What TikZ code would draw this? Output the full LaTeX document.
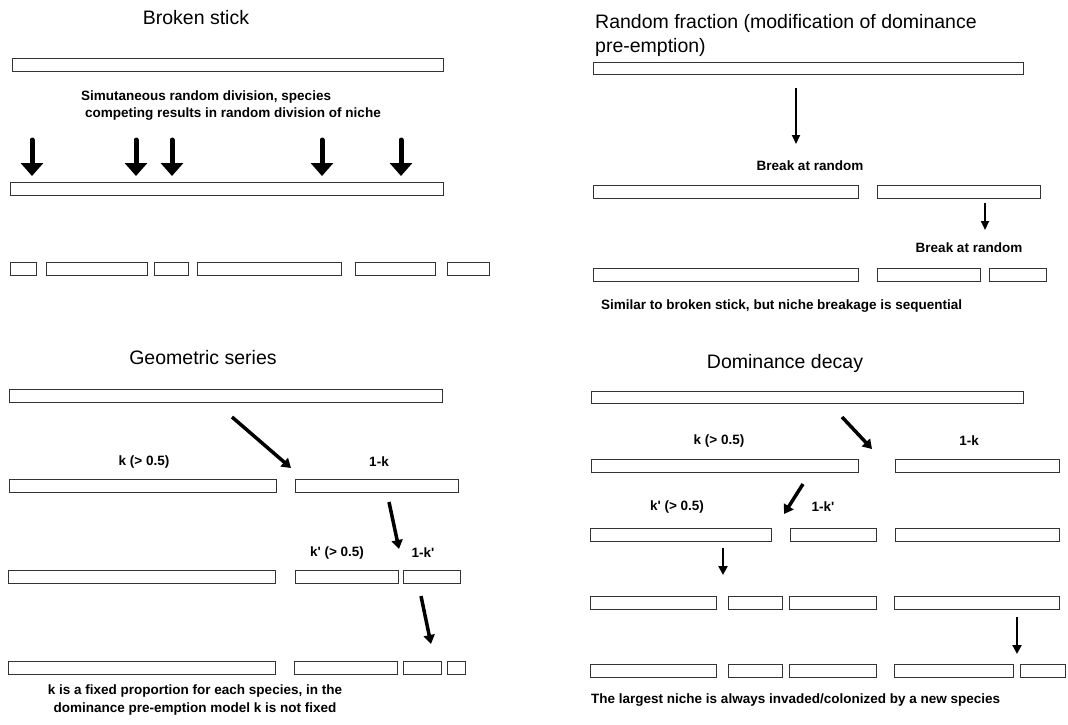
\documentclass[tikz,border=0pt]{standalone}
\usepackage{fontspec}
\setmainfont{Liberation Sans}
\usetikzlibrary{arrows.meta}
\tikzset{
  nichebar/.style={draw=black!80, line width=1pt, fill=white, inner sep=0pt, outer sep=0pt},
  ttl/.style={font=\fontsize{19.5}{24}\selectfont, inner sep=0pt},
  lbl/.style={font=\fontsize{13.5}{17}\selectfont\bfseries, inner sep=0pt},
  bigarrow/.style={line width=5pt, line cap=round, -{Triangle[width=22pt,length=13pt]}},
  thickarrow/.style={line width=3.5pt, -{Triangle[width=11pt,length=9pt]}},
  medarrow/.style={line width=2.5pt, -{Triangle[width=9pt,length=9pt]}},
  thinarrow/.style={line width=1.8pt, -{Triangle[width=8pt,length=9pt]}},
}
\newcommand{\nichebox}[5]{\node[nichebar, minimum width={(#4)-(#2)}, minimum height={(#5)-(#3)}] (#1) at ({((#2)+(#4))/2},{((#3)+(#5))/2}) {};}
\begin{document}
\begin{tikzpicture}[x=1pt, y=-1pt]
\fill[white] (0,0) rectangle (1068,724);
\path[use as bounding box] (0,0) rectangle (1068,724);

% ---------------- Broken stick ----------------
\node[ttl] (t1) at (196,18) {Broken stick};
\nichebox{a1}{12}{58}{443}{71}
\node[lbl, anchor=west, align=left] (d1) at (81,106) {Simutaneous random division, species\\\hspace{4pt}competing results in random division of niche};
\foreach \i/\x in {1/32, 2/136, 3/172, 4/322, 5/401}{
  \coordinate (as\i) at (\x,140);
  \coordinate (ae\i) at (\x,176);
  \draw[bigarrow] (as\i) -- (ae\i);
}
\nichebox{a2}{10}{182}{443}{195}
\nichebox{s1}{10}{262}{36}{275}
\nichebox{s2}{46}{262}{147}{275}
\nichebox{s3}{154}{262}{188}{275}
\nichebox{s4}{197}{262}{341}{275}
\nichebox{s5}{355}{262}{435}{275}
\nichebox{s6}{447}{262}{489}{275}

% ---------------- Random fraction ----------------
\node[ttl, anchor=west, align=left] (t2) at (595,35) {Random fraction (modification of dominance\\pre-emption)};
\nichebox{b1}{593}{62}{1023}{74}
\coordinate (bs1) at (796,88);
\coordinate (be1) at (796,144);
\draw[thinarrow] (bs1) -- (be1);
\node[lbl] (br1) at (810,166) {Break at random};
\nichebox{b2a}{593}{185}{858}{198}
\nichebox{b2b}{877}{185}{1040}{198}
\coordinate (bs2) at (985,203);
\coordinate (be2) at (985,230);
\draw[thinarrow] (bs2) -- (be2);
\node[lbl] (br2) at (969,248) {Break at random};
\nichebox{b3a}{593}{268}{858}{281}
\nichebox{b3b}{877}{268}{980}{281}
\nichebox{b3c}{989}{268}{1046}{281}
\node[lbl, anchor=west] (d2) at (601,306) {Similar to broken stick, but niche breakage is sequential};

% ---------------- Geometric series ----------------
\node[ttl] (t3) at (203,358) {Geometric series};
\nichebox{c1}{9}{389}{442}{402}
\coordinate (cs1) at (232,417);
\coordinate (ce1) at (291,468);
\draw[thickarrow] (cs1) -- (ce1);
\node[lbl] (gk) at (144,462) {k (> 0.5)};
\node[lbl] (g1k) at (379,462) {1-k};
\nichebox{c2a}{9}{479}{276}{492}
\nichebox{c2b}{295}{479}{458}{492}
\coordinate (cs2) at (389,502);
\coordinate (ce2) at (399,549);
\draw[thickarrow] (cs2) -- (ce2);
\node[lbl] (gkp) at (337,553) {k\textquotesingle{} (> 0.5)};
\node[lbl] (g1kp) at (423,553) {1-k\textquotesingle};
\nichebox{c3a}{8}{570}{275}{583}
\nichebox{c3b}{295}{570}{398}{583}
\nichebox{c3c}{403}{570}{460}{583}
\coordinate (cs3) at (421,596);
\coordinate (ce3) at (431,644);
\draw[thickarrow] (cs3) -- (ce3);
\nichebox{c4a}{8}{661}{275}{674}
\nichebox{c4b}{294}{661}{397}{674}
\nichebox{c4c}{403}{661}{441}{674}
\nichebox{c4d}{447}{661}{465}{674}
\node[lbl, align=center, font=\fontsize{13.5}{18}\selectfont\bfseries] (d3) at (195,700) {k is a fixed proportion for each species, in the\\dominance pre-emption model k is not fixed};

% ---------------- Dominance decay ----------------
\node[ttl] (t4) at (785,363) {Dominance decay};
\nichebox{e1}{591}{391}{1023}{403}
\coordinate (es1) at (842,417);
\coordinate (ee1) at (872,449);
\draw[thickarrow] (es1) -- (ee1);
\node[lbl] (dk) at (719,441) {k (> 0.5)};
\node[lbl] (d1k) at (969,441) {1-k};
\nichebox{e2a}{591}{459}{858}{472}
\nichebox{e2b}{895}{459}{1059}{472}
\coordinate (es2) at (803,484);
\coordinate (ee2) at (784,514);
\draw[thickarrow] (es2) -- (ee2);
\node[lbl] (dkp) at (677,507) {k\textquotesingle{} (> 0.5)};
\node[lbl] (d1kp) at (823,507) {1-k\textquotesingle};
\nichebox{e3a}{590}{528}{771}{541}
\nichebox{e3b}{790}{528}{876}{541}
\nichebox{e3c}{895}{528}{1059}{541}
\coordinate (es3) at (723,548);
\coordinate (ee3) at (723,575);
\draw[medarrow] (es3) -- (ee3);
\nichebox{e4a}{590}{596}{716}{609}
\nichebox{e4b}{728}{596}{782}{609}
\nichebox{e4c}{789}{596}{876}{609}
\nichebox{e4d}{894}{596}{1059}{609}
\coordinate (es4) at (1017,617);
\coordinate (ee4) at (1017,654);
\draw[medarrow] (es4) -- (ee4);
\nichebox{f1}{590}{664}{716}{677}
\nichebox{f2}{728}{664}{782}{677}
\nichebox{f3}{789}{664}{876}{677}
\nichebox{f4}{894}{664}{1013}{677}
\nichebox{f5}{1020}{664}{1065}{677}
\node[lbl, anchor=west] (d4) at (591,700) {The largest niche is always invaded/colonized by a new species};
\end{tikzpicture}
\end{document}
